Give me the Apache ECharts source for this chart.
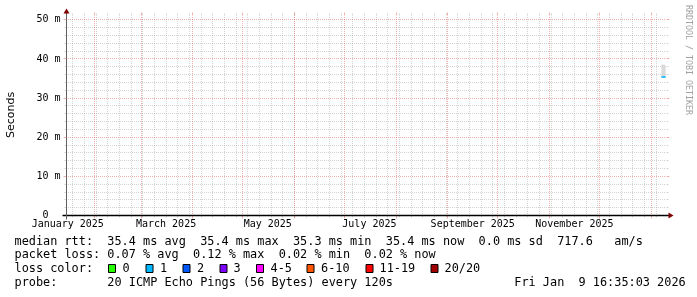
<!DOCTYPE html>
<html><head><meta charset="utf-8">
<script src="https://cdn.jsdelivr.net/npm/echarts@6/dist/echarts.min.js"></script>
<style>html,body{margin:0;padding:0;background:#fff}#c{width:697px;height:297px}</style>
</head><body><div id="c"></div>
<script>
// ---- data ----
const rangeStart = '2025-01-15T06:00:00';
const rangeEnd = '2026-01-10T06:00:00';
const monthLabels = ['January 2025','March 2025','May 2025','July 2025','September 2025','November 2025'];
const monthLabelDates = ['2025-01-16T00:00:00','2025-03-16T00:00:00','2025-05-16T00:00:00','2025-07-16T00:00:00','2025-09-16T00:00:00','2025-11-16T00:00:00'];
const yTicks = [0,10,20,30,40,50];
const yTickLabels = ['0  ','10 m','20 m','30 m','40 m','50 m'];
const yMaxMs = 51.1;
// measurement bins (times), values in ms
const binStart = ['2026-01-07T06:00:00','2026-01-07T20:24:00','2026-01-08T10:48:00','2026-01-09T01:12:00'];
const binEnd   = ['2026-01-07T20:24:00','2026-01-08T10:48:00','2026-01-09T01:12:00','2026-01-09T15:36:00'];
const smokeMin = [35.2, 35.2, 35.3, 35.2];
const smokeMax = [38.6, 38.5, 38.6, 38.4];
const medianRtt = [35.4, 35.4, 35.4, 35.4];
const lossIndex = [1, 1, 1, 1];
const lossLabels = ['0','1','2','3','4-5','6-10','11-19','20/20'];
const lossColors = ['#26ff00','#00b8ff','#0059ff','#7e00ff','#ff00ff','#ff5500','#ff0000','#a10000'];
const legendLines = [
  'median rtt:  35.4 ms avg  35.4 ms max  35.3 ms min  35.4 ms now  0.0 ms sd  717.6   am/s',
  'packet loss: 0.07 % avg  0.12 % max  0.02 % min  0.02 % now',
  'loss color:',
  'probe:       20 ICMP Echo Pings (56 Bytes) every 120s                 Fri Jan  9 16:35:03 2026'
];

// ---- setup ----
const T = s => new Date(s).getTime();
const xMin = T(rangeStart), xMax = T(rangeEnd);
const GRID = 'rgba(144,144,144,0.4)';
const MGRID = 'rgba(224,80,80,0.45)';
const MONO = '"DejaVu Sans Mono", monospace';
const labelTs = monthLabelDates.map(T);

// grid positions (weekly on Sundays, monthly on the 1st, every 2 ms / 10 ms)
const gridData = [];
let d = new Date(xMin); d.setHours(0,0,0,0);
while (d.getDay() !== 0 || d.getTime() < xMin) d.setDate(d.getDate() + 1);
for (; d.getTime() < xMax; d.setDate(d.getDate() + 7)) gridData.push([d.getTime(), 0, 0]);
for (let m = new Date(new Date(xMin).getFullYear(), new Date(xMin).getMonth() + 1, 1); m.getTime() < xMax; m = new Date(m.getFullYear(), m.getMonth() + 1, 1)) gridData.push([m.getTime(), 0, 1]);
for (let v = 2; v <= yMaxMs; v += 2) gridData.push([xMin, v, v % 10 === 0 ? 3 : 2]);
gridData.sort((a, b) => (a[2] % 2) - (b[2] % 2));

const smokeData = binStart.map((s, i) => [T(s), T(binEnd[i]), smokeMin[i], smokeMax[i], medianRtt[i], lossIndex[i]]);

function frameBox(api) {
  const o = api.coord([xMin, 0]), e = api.coord([xMax, yMaxMs]);
  return {X0: o[0], Y0: o[1], X1: e[0], Y1: e[1]};
}
function seg(x1, y1, x2, y2, color, dash, w) {
  return {type: 'line', shape: {x1, y1, x2, y2}, style: {stroke: color, lineWidth: w || 1, lineDash: dash ? [1, 1] : null}, silent: true};
}

const chart = echarts.init(document.getElementById('c'));
const graphics = [];
legendLines.forEach((txt, i) => {
  graphics.push({type: 'text', x: 14.5, y: [241.5, 255, 269, 283][i], style: {text: txt, font: '11.86px ' + MONO, fill: '#000', verticalAlign: 'middle'}, silent: true});
});
const boxX = [108, 145.5, 182.5, 219.5, 256, 306.5, 365.5, 430.5];
const labX = [122.5, 160, 197, 233.5, 270.5, 321, 379.5, 444.5];
lossLabels.forEach((lab, i) => {
  graphics.push({type: 'rect', shape: {x: boxX[i] + 0.5, y: 264.5, width: 7, height: 8}, style: {fill: lossColors[i], stroke: '#000', lineWidth: 1}, silent: true});
  graphics.push({type: 'text', x: labX[i], y: 269, style: {text: lab, font: '11.86px ' + MONO, fill: '#000', verticalAlign: 'middle'}, silent: true});
});
graphics.push({type: 'text', x: 11, y: 115, rotation: Math.PI / 2, style: {text: 'Seconds', font: '11px "DejaVu Sans", sans-serif', fill: '#000', align: 'center', verticalAlign: 'middle'}, silent: true});
graphics.push({type: 'text', x: 688, y: 5, rotation: -Math.PI / 2, style: {text: 'RRDTOOL / TOBI OETIKER', font: '8.3px ' + MONO, fill: '#a0a0a0', align: 'left', verticalAlign: 'middle'}, silent: true});

chart.setOption({
  animation: false,
  backgroundColor: '#fff',
  grid: {left: 66.5, top: 15.5, width: 600, height: 200},
  xAxis: {
    type: 'value', min: xMin, max: xMax,
    axisLine: {show: false}, axisTick: {show: false}, splitLine: {show: false},
    axisLabel: {
      customValues: labelTs, margin: 4,
      fontFamily: MONO, fontSize: 10, color: '#000',
      formatter: v => monthLabels[labelTs.indexOf(v)] || ''
    }
  },
  yAxis: {
    type: 'value', min: 0, max: yMaxMs,
    axisLine: {show: false}, axisTick: {show: false}, splitLine: {show: false},
    axisLabel: {
      customValues: yTicks, margin: 6,
      fontFamily: MONO, fontSize: 10, color: '#000',
      formatter: v => yTickLabels[yTicks.indexOf(v)]
    }
  },
  graphic: graphics,
  series: [
    {
      type: 'custom', z: 1, silent: true, clip: false,
      data: gridData, encode: {x: 0, y: 1},
      renderItem(params, api) {
        const f = frameBox(api);
        const kind = api.value(2);
        const major = kind === 1 || kind === 3;
        const col = major ? MGRID : GRID;
        const stub = major ? 3 : 2;
        if (kind < 2) {
          const x = Math.floor(api.coord([api.value(0), 0])[0]) + 0.5;
          return {type: 'group', children: [
            seg(x, f.Y1 - stub, x, f.Y1, col),
            seg(x, f.Y0, x, f.Y0 + stub, col),
            seg(x, Math.floor(f.Y0) - 1, x, Math.ceil(f.Y1), col, true)
          ]};
        }
        const y = Math.floor(api.coord([xMin, api.value(1)])[1]) + 0.5;
        return {type: 'group', children: [
          seg(f.X0 - stub, y, f.X0, y, col),
          seg(f.X1, y, f.X1 + stub, y, col),
          seg(Math.ceil(f.X0) + 1, y, Math.floor(f.X1), y, col, true)
        ]};
      }
    },
    {
      type: 'custom', z: 2, silent: true,
      data: smokeData, encode: {x: [0, 1], y: [2, 3]},
      renderItem(params, api) {
        const a = api.coord([api.value(0), api.value(3)]);
        const b = api.coord([api.value(1), api.value(2)]);
        return {type: 'rect', shape: {x: a[0], y: a[1], width: b[0] - a[0], height: b[1] - a[1]}, style: {fill: '#d0d0d0'}};
      }
    },
    {
      type: 'custom', z: 3, silent: true,
      data: smokeData, encode: {x: [0, 1], y: 4},
      renderItem(params, api) {
        const a = api.coord([api.value(0), api.value(4)]);
        const b = api.coord([api.value(1), api.value(4)]);
        return seg(a[0], a[1], b[0], b[1], lossColors[api.value(5)], false, 2);
      }
    },
    {
      type: 'custom', z: 4, silent: true, clip: false,
      data: [[xMin, 0]], encode: {x: 0, y: 1},
      renderItem(params, api) {
        const f = frameBox(api);
        return {type: 'group', children: [
          seg(f.X0 - 4, f.Y0, f.X1 + 4, f.Y0, '#000', false, 1.5),
          seg(f.X0, f.Y0 + 4, f.X0, f.Y1 - 4, '#606060', false, 1),
          {type: 'polygon', shape: {points: [[f.X1 + 2, f.Y0 - 3], [f.X1 + 2, f.Y0 + 3], [f.X1 + 7, f.Y0]]}, style: {fill: '#800000'}},
          {type: 'polygon', shape: {points: [[f.X0 - 3, f.Y1 - 2], [f.X0 + 3, f.Y1 - 2], [f.X0, f.Y1 - 7]]}, style: {fill: '#800000'}}
        ]};
      }
    }
  ]
});
</script></body></html>
